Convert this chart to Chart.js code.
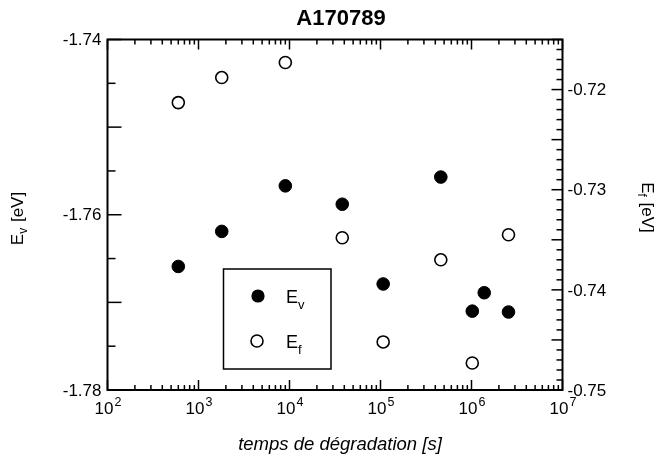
<!DOCTYPE html>
<html><head><meta charset="utf-8">
<script src="https://cdn.jsdelivr.net/npm/chart.js@4"></script>
<style>html,body{margin:0;padding:0;background:#fff}canvas{display:block}</style>
</head><body>
<canvas id="c" width="661" height="459"></canvas>
<script>
// ---- data ----
const chartTitle = 'A170789';
const xAxisTitle = 'temps de dégradation [s]';
const timeEv = [600, 1800, 9000, 38000, 107000, 460000, 1020000, 1380000, 2550000];
const ev     = [-1.7659, -1.7619, -1.7567, -1.7588, -1.7679, -1.7557, -1.7710, -1.7689, -1.7711];
const timeEf = [600, 1800, 9000, 38000, 107000, 460000, 1020000, 2550000];
const ef     = [-0.7213, -0.7188, -0.7173, -0.7348, -0.7452, -0.7370, -0.7473, -0.7345];
const xTickExponents = [2, 3, 4, 5, 6, 7];
const yLeftTicks  = [-1.78, -1.76, -1.74];
const yLeftLabels = ['-1.78', '-1.76', '-1.74'];
const yRightTicks  = [-0.75, -0.74, -0.73, -0.72];
const yRightLabels = ['-0.75', '-0.74', '-0.73', '-0.72'];
const leftTitle  = ['E', 'v', ' [eV]'];
const rightTitle = ['E', 'f', ' [eV]'];
const legendLabels = [['E', 'v'], ['E', 'f']];

const FONT = '"Liberation Sans", Arial, Helvetica, sans-serif';

function subText(ctx, parts, size, subSize, subDrop) {
  ctx.font = size + 'px ' + FONT; const w0 = ctx.measureText(parts[0]).width;
  ctx.font = subSize + 'px ' + FONT; const w1 = ctx.measureText(parts[1]).width;
  ctx.font = size + 'px ' + FONT; const w2 = parts[2] ? ctx.measureText(parts[2]).width : 0;
  return {
    width: w0 + w1 + w2,
    draw(x, y) {
      ctx.textAlign = 'left'; ctx.textBaseline = 'alphabetic';
      ctx.font = size + 'px ' + FONT; ctx.fillText(parts[0], x, y);
      ctx.font = subSize + 'px ' + FONT; ctx.fillText(parts[1], x + w0, y + subDrop);
      if (parts[2]) { ctx.font = size + 'px ' + FONT; ctx.fillText(parts[2], x + w0 + w1 + 1, y); }
    }
  };
}

const decor = {
  id: 'decor',
  afterDraw(chart) {
    const ctx = chart.ctx, ca = chart.chartArea;
    const xs = chart.scales.x, yl = chart.scales.y, yr = chart.scales.y1;
    ctx.save();
    ctx.fillStyle = '#000'; ctx.strokeStyle = '#000';
    const line = (x1, y1, x2, y2) => { ctx.beginPath(); ctx.moveTo(x1, y1); ctx.lineTo(x2, y2); ctx.stroke(); };

    // ticks
    ctx.lineWidth = 1.5;
    for (const e of xTickExponents) {
      for (let m = 1; m <= 9; m++) {
        const v = m * Math.pow(10, e);
        if (v > xs.max * 1.0001) break;
        const px = xs.getPixelForValue(v);
        const L = m === 1 ? 10 : 5;
        line(px, ca.bottom, px, ca.bottom - L);
        line(px, ca.top, px, ca.top + L);
      }
    }
    for (let k = 0; k <= 8; k++) {
      const py = yl.getPixelForValue(yl.min + k * 0.005);
      line(ca.left, py, ca.left + (k % 2 === 0 ? 14 : 8), py);
    }
    for (let k = 0; k <= 35; k++) {
      const py = yr.getPixelForValue(yr.min + k * 0.001);
      line(ca.right, py, ca.right - (k % 5 === 0 ? 11 : 6), py);
    }
    // frame
    ctx.lineWidth = 2;
    ctx.strokeRect(ca.left, ca.top, ca.right - ca.left, ca.bottom - ca.top);

    // tick labels
    ctx.font = '17px ' + FONT; ctx.textBaseline = 'middle';
    ctx.textAlign = 'right';
    yLeftTicks.forEach((v, i) => ctx.fillText(yLeftLabels[i], ca.left - 6, yl.getPixelForValue(v) + 1));
    ctx.textAlign = 'left';
    yRightTicks.forEach((v, i) => ctx.fillText(yRightLabels[i], ca.right + 5, yr.getPixelForValue(v) + 1));
    ctx.textBaseline = 'alphabetic';
    xTickExponents.forEach(e => {
      const px = xs.getPixelForValue(Math.pow(10, e));
      ctx.font = '17px ' + FONT; const wb = ctx.measureText('10').width;
      ctx.font = '12.5px ' + FONT; const we = ctx.measureText(String(e)).width;
      const x0 = px - (wb + we) / 2;
      ctx.textAlign = 'left';
      ctx.font = '17px ' + FONT; ctx.fillText('10', x0, ca.bottom + 24);
      ctx.font = '12.5px ' + FONT; ctx.fillText(String(e), x0 + wb + 1, ca.bottom + 16);
    });

    // titles
    ctx.textAlign = 'center';
    ctx.font = 'bold 22px ' + FONT;
    ctx.fillText(chartTitle, 341, 25);
    ctx.font = 'italic 18.5px ' + FONT;
    ctx.fillText(xAxisTitle, 340, 450);

    let t = subText(ctx, leftTitle, 17, 12, 4);
    ctx.save(); ctx.translate(23, 219); ctx.rotate(-Math.PI / 2); t.draw(-t.width / 2, 0); ctx.restore();
    t = subText(ctx, rightTitle, 17, 12, 4);
    ctx.save(); ctx.translate(642, 207); ctx.rotate(Math.PI / 2); t.draw(-t.width / 2, 0); ctx.restore();

    // legend
    const lx = 223.5, ly = 269, lw = 107.5, lh = 100;
    ctx.lineWidth = 1.5;
    ctx.strokeRect(lx, ly, lw, lh);
    const ds = chart.data.datasets;
    [[258, 296], [257, 341]].forEach((p, i) => {
      ctx.beginPath(); ctx.arc(p[0], p[1], i === 0 ? 6.6 : 6, 0, Math.PI * 2);
      if (i === 0) { ctx.fillStyle = ds[0].backgroundColor; ctx.fill(); }
      else { ctx.fillStyle = '#fff'; ctx.fill(); ctx.lineWidth = 1.6; ctx.stroke(); }
      ctx.fillStyle = '#000';
      const s = subText(ctx, legendLabels[i], 18, 13, 6);
      s.draw(286, p[1] + 7);
    });
    ctx.restore();
  }
};

new Chart(document.getElementById('c'), {
  type: 'scatter',
  data: {
    datasets: [
      { label: 'Ev', data: timeEv.map((t, i) => ({ x: t, y: ev[i] })), yAxisID: 'y',
        backgroundColor: '#000', borderColor: '#000', borderWidth: 1, pointRadius: 6.3, pointHoverRadius: 6.3 },
      { label: 'Ef', data: timeEf.map((t, i) => ({ x: t, y: ef[i] })), yAxisID: 'y1',
        backgroundColor: '#fff', borderColor: '#000', borderWidth: 1.6, pointRadius: 6, pointHoverRadius: 6 }
    ]
  },
  options: {
    responsive: false, animation: false, devicePixelRatio: 1,
    layout: { padding: { left: 107.5, right: 98.5, top: 39.5, bottom: 69 } },
    plugins: { legend: { display: false }, tooltip: { enabled: false }, title: { display: false } },
    scales: {
      x:  { type: 'logarithmic', min: 100, max: 1e7, display: false },
      y:  { type: 'linear', position: 'left', min: -1.78, max: -1.74, display: false },
      y1: { type: 'linear', position: 'right', min: -0.75, max: -0.715, display: false }
    }
  },
  plugins: [decor]
});
</script>
</body></html>
